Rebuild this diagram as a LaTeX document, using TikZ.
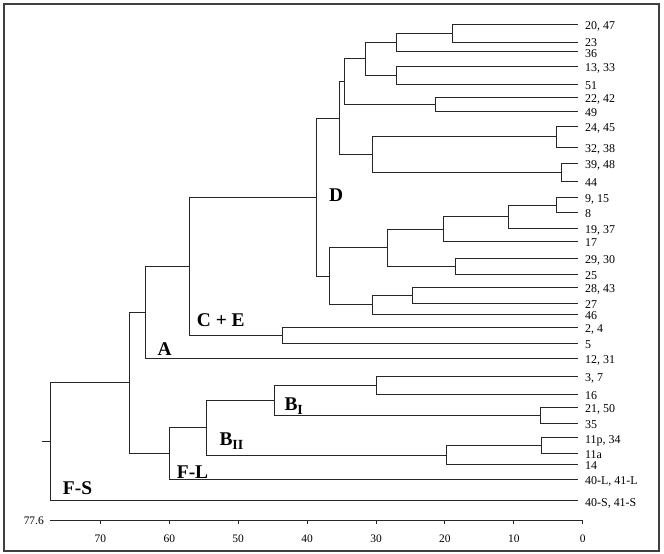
\documentclass[tikz,border=0pt]{standalone}
\usepackage{fontspec}
\setmainfont{Liberation Serif}
\newcommand\mjoin[3]{\draw[br] (#1) |- (#2) (#1) |- (#3);}
\newcommand\subr[1]{\raisebox{-4bp}{\fontsize{14}{14}\selectfont #1}}
\begin{document}
\begin{tikzpicture}[x=1bp,y=-1bp,
  br/.style={line width=0.95bp, draw=black!85},
  leaf/.style={anchor=base west, inner sep=0pt, text height=8.3bp, text depth=0.4bp, font=\fontsize{12}{12}\selectfont},
  grp/.style={anchor=base west, inner sep=0pt, font=\fontsize{19.5}{19.5}\selectfont\bfseries},
  ticklab/.style={anchor=base, inner sep=0pt, font=\fontsize{11.5}{11.5}\selectfont}]
\useasboundingbox (0,0) rectangle (664,554);
\draw[line width=1.3bp, black!75] (4,4) rectangle (659,551);
% leaves: number / line y / label shift / text
\foreach \n/\y/\s/\t in {
 1/24.3/0/{20, 47}, 2/42.3/-0.9/{23}, 3/51.7/0.9/{36}, 4/66/0/{13, 33}, 5/84/0/{51},
 6/97.3/0/{22, 42}, 7/111/0/{49}, 8/126/0/{24, 45}, 9/147/0/{32, 38}, 10/163.7/0/{39, 48},
 11/181.5/0/{44}, 12/197.7/0/{9, 15}, 13/212.3/0/{8}, 14/228.3/0/{19, 37}, 15/241.7/0/{17},
 16/258.3/0/{29, 30}, 17/274/0/{25}, 18/287.3/0/{28, 43}, 19/303.3/0/{27}, 20/314.3/0/{46},
 21/327.5/0/{2, 4}, 22/343/0/{5}, 23/358/0/{12, 31}, 24/376/0/{3, 7}, 25/394.3/0/{16},
 26/407.3/0/{21, 50}, 27/423.3/0/{35}, 28/437.7/0/{11p, 34}, 29/453.3/0/{11a}, 30/464.5/0/{14},
 31/479/0/{40-L, 41-L}, 32/500.7/0/{40-S, 41-S}}
{
  \coordinate (L\n) at (578,\y);
  \node[leaf] (T\n) at (585,{\y+5.3+\s}) {\t};
}
% internal nodes
\coordinate (n1) at (452,33.3);
\coordinate (n2) at (396,42.5);
\coordinate (n3) at (396,75);
\coordinate (n4) at (365,58.75);
\coordinate (n5) at (435,104.15);
\coordinate (n6) at (344,81.45);
\coordinate (n7) at (556,136.5);
\coordinate (n8) at (561,172.6);
\coordinate (n9) at (372,154.55);
\coordinate (n10) at (339,118);
\coordinate (n11) at (556,205);
\coordinate (n12) at (508,216.65);
\coordinate (n13) at (443,229.2);
\coordinate (n14) at (455,266.15);
\coordinate (n15) at (387,247.7);
\coordinate (n16) at (412,295.3);
\coordinate (n17) at (372,304.8);
\coordinate (n18) at (329,276.25);
\coordinate (nD) at (316,197.1);
\coordinate (n19) at (282,335.25);
\coordinate (nCE) at (189,266.2);
\coordinate (nA) at (145,312.1);
\coordinate (n20) at (376,385.15);
\coordinate (n21) at (540,415.3);
\coordinate (nBI) at (274,400.2);
\coordinate (n22) at (541.6,445.5);
\coordinate (n23) at (446,455);
\coordinate (nBII) at (206.5,427.6);
\coordinate (nFL) at (169,453.3);
\coordinate (n24) at (129,382.7);
\coordinate (root) at (50,441.7);
\coordinate (stub) at (42,441.7);
\mjoin{n1}{L1}{L2}
\mjoin{n2}{n1}{L3}
\mjoin{n3}{L4}{L5}
\mjoin{n4}{n2}{n3}
\mjoin{n5}{L6}{L7}
\mjoin{n6}{n4}{n5}
\mjoin{n7}{L8}{L9}
\mjoin{n8}{L10}{L11}
\mjoin{n9}{n7}{n8}
\mjoin{n10}{n6}{n9}
\mjoin{n11}{L12}{L13}
\mjoin{n12}{n11}{L14}
\mjoin{n13}{n12}{L15}
\mjoin{n14}{L16}{L17}
\mjoin{n15}{n13}{n14}
\mjoin{n16}{L18}{L19}
\mjoin{n17}{n16}{L20}
\mjoin{n18}{n15}{n17}
\mjoin{nD}{n10}{n18}
\mjoin{n19}{L21}{L22}
\mjoin{nCE}{nD}{n19}
\mjoin{nA}{nCE}{L23}
\mjoin{n20}{L24}{L25}
\mjoin{n21}{L26}{L27}
\mjoin{nBI}{n20}{n21}
\mjoin{n22}{L28}{L29}
\mjoin{n23}{n22}{L30}
\mjoin{nBII}{nBI}{n23}
\mjoin{nFL}{nBII}{L31}
\mjoin{n24}{nA}{nFL}
\mjoin{root}{n24}{L32}
\draw[br] (stub) -- (root);
% group labels
\node[grp] (gD) at (329,202) {D};
\node[grp] (gCE) at (196.7,326) {C + E};
\node[grp] (gA) at (157.3,355.3) {A};
\node[grp] (gBI) at (284.3,410) {B\subr{I}};
\node[grp] (gBII) at (219.3,445.7) {B\subr{II}};
\node[grp] (gFL) at (176.7,478.3) {F-L};
\node[grp] (gFS) at (62.8,494) {F-S};
% axis
\coordinate (ax0) at (50,520);
\coordinate (ax1) at (582.7,520);
\draw[br] (ax0) -- (ax1);
\foreach \k in {0,...,7}{
  \pgfmathsetmacro\xx{582.7-68.9*\k}
  \pgfmathtruncatemacro\vv{10*\k}
  \draw[br] (\xx,520) -- (\xx,524);
  \node[ticklab] (tk\k) at (\xx,542.3) {\vv};
}
\node[ticklab, anchor=base east] (tmax) at (44,524) {77.6};
\end{tikzpicture}
\end{document}
